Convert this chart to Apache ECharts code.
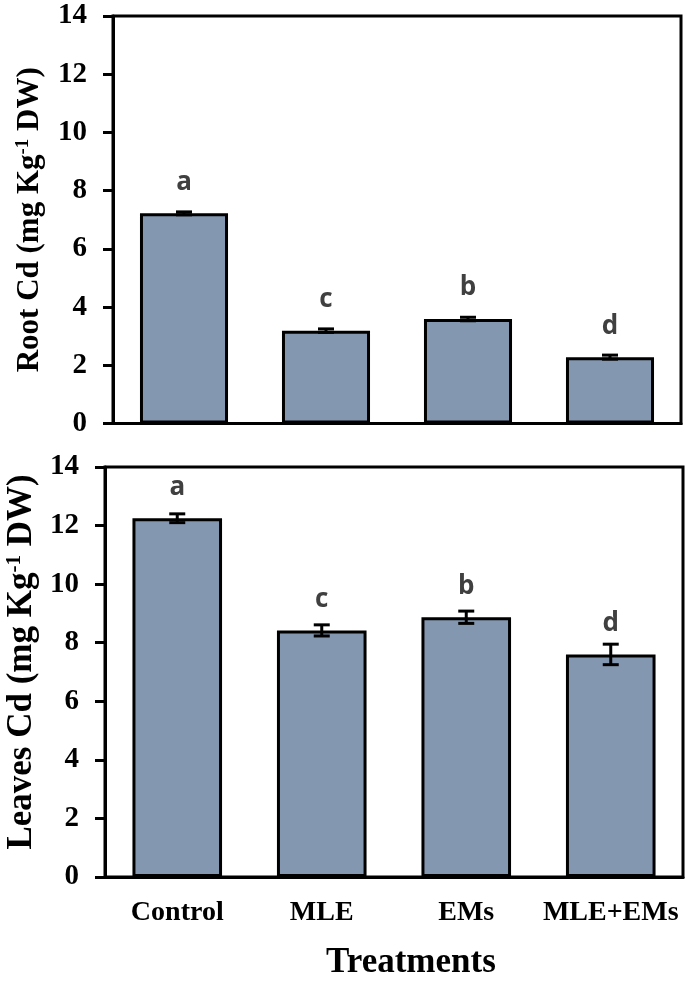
<!DOCTYPE html>
<html>
<head>
<meta charset="utf-8">
<script src="https://cdn.jsdelivr.net/npm/echarts@6/dist/echarts.min.js"></script>
<style>
html,body{margin:0;padding:0;background:#fff;}
#chart{width:685px;height:991px;}
</style>
</head>
<body>
<div id="chart"></div>
<script>
var categories = ['Control', 'MLE', 'EMs', 'MLE+EMs'];
var rootMeans = [7.22, 3.19, 3.59, 2.28];
var rootErr = [0.05, 0.06, 0.06, 0.07];
var rootLetters = ['a', 'c', 'b', 'd'];
var leavesMeans = [12.25, 8.42, 8.87, 7.6];
var leavesErr = [0.15, 0.19, 0.21, 0.35];
var leavesLetters = ['a', 'c', 'b', 'd'];
var yTicks = [0, 2, 4, 6, 8, 10, 12, 14];

var SERIF = 'Liberation Serif';
var BAR_COLOR = '#8497B0';

function errorSeries(idx, means, errs) {
  return {
    type: 'custom',
    xAxisIndex: idx, yAxisIndex: idx,
    data: means.map(function (m, i) { return [i, m, errs[i]]; }),
    z: 10,
    renderItem: function (params, api) {
      var i = api.value(0), m = api.value(1), e = api.value(2);
      var hi = api.coord([i, m + e]);
      var lo = api.coord([i, m - e]);
      var hw = 8;
      var st = { stroke: '#000', lineWidth: 3 };
      return {
        type: 'group',
        children: [
          { type: 'line', shape: { x1: hi[0], y1: hi[1], x2: lo[0], y2: lo[1] }, style: st },
          { type: 'line', shape: { x1: hi[0] - hw, y1: hi[1], x2: hi[0] + hw, y2: hi[1] }, style: st },
          { type: 'line', shape: { x1: lo[0] - hw, y1: lo[1], x2: lo[0] + hw, y2: lo[1] }, style: st }
        ]
      };
    }
  };
}

function barSeries(idx, means, letters) {
  return {
    type: 'bar',
    xAxisIndex: idx, yAxisIndex: idx,
    data: means,
    barWidth: '62%',
    itemStyle: { color: BAR_COLOR, borderColor: '#000', borderWidth: 3 },
    label: {
      show: true, position: 'top', distance: 18,
      formatter: function (p) { return letters[p.dataIndex]; },
      fontFamily: 'Open Sans', fontWeight: 'bold', fontSize: 26, color: '#404040'
    }
  };
}

function yAxis(idx, nameTop, gap, fs, pad) {
  return {
    gridIndex: idx, type: 'value', min: 0, max: 14, interval: 2,
    name: nameTop, nameLocation: 'middle', nameGap: gap, nameRotate: 90,
    nameTextStyle: {
      fontFamily: SERIF, fontWeight: 'bold', fontSize: fs, color: '#000', padding: pad,
      rich: { sup: { fontFamily: SERIF, fontWeight: 'bold', fontSize: Math.round(fs * 0.6), color: '#000', verticalAlign: 'top', padding: [0, 0, 12, 0] } }
    },
    axisLine: { show: true, lineStyle: { color: '#000', width: 3 } },
    axisTick: { show: true, inside: false, length: 10, lineStyle: { color: '#000', width: 3 } },
    axisLabel: {
      margin: 26, fontFamily: SERIF, fontWeight: 'bold', fontSize: 29, color: '#000',
      formatter: function (v) { return yTicks.indexOf(v) >= 0 ? String(v) : ''; }
    },
    splitLine: { show: false }
  };
}

function xAxis(idx, showLabels) {
  return {
    gridIndex: idx, type: 'category', data: categories,
    axisLine: { show: true, lineStyle: { color: '#000', width: 3 } },
    axisTick: { show: false },
    axisLabel: {
      show: showLabels, interval: 0, margin: 22, fontFamily: SERIF, fontWeight: 'bold', fontSize: 28, color: '#000'
    }
  };
}

var chart = echarts.init(document.getElementById('chart'), null, { renderer: 'canvas' });
chart.setOption({
  backgroundColor: '#fff',
  animation: false,
  grid: [
    { left: 113, top: 16, right: 4, height: 407.5, outerBoundsMode: 'none', containLabel: false, show: true, borderColor: '#000', borderWidth: 3, backgroundColor: 'transparent' },
    { left: 105, top: 467, right: 2, height: 410, outerBoundsMode: 'none', containLabel: false, show: true, borderColor: '#000', borderWidth: 3, backgroundColor: 'transparent' }
  ],
  xAxis: [xAxis(0, false), xAxis(1, true)],
  yAxis: [
    yAxis(0, 'Root Cd (mg Kg{sup|-1} DW)', 68, 31, [0, 0, 0, 0]),
    yAxis(1, 'Leaves Cd (mg Kg{sup|-1} DW)', 61, 35, [0, 0, 0, 20])
  ],
  series: [
    barSeries(0, rootMeans, rootLetters),
    errorSeries(0, rootMeans, rootErr),
    barSeries(1, leavesMeans, leavesLetters),
    errorSeries(1, leavesMeans, leavesErr)
  ],
  graphic: [
    { type: 'text', left: 412 - 86, top: 945, style: { text: 'Treatments', fontFamily: SERIF, fontWeight: 'bold', fontSize: 35, fill: '#000' } }
  ]
});
</script>
</body>
</html>
